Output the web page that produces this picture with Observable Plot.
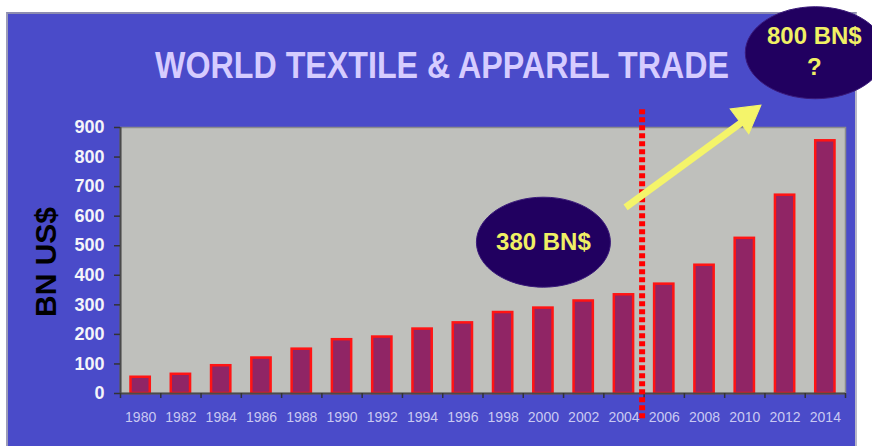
<!DOCTYPE html>
<html>
<head>
<meta charset="utf-8">
<script src="https://cdn.jsdelivr.net/npm/d3@7"></script>
<script src="https://cdn.jsdelivr.net/npm/@observablehq/plot@0.6"></script>
<style>
  html, body { margin: 0; padding: 0; background: #ffffff; width: 872px; height: 446px; overflow: hidden; }
  #panel { position: absolute; left: 6px; top: 12px; width: 847px; height: 440px;
           background: #4a4bc9; border-top: 2px solid #8d8db0; border-left: 2px solid #9c9cb8; border-right: 2px solid #b8b8c8; }
  #chart { position: absolute; left: 0; top: 0; }
</style>
</head>
<body>
<div id="panel"></div>
<div id="chart"></div>
<script>
// ---- data ----
const years  = [1980, 1982, 1984, 1986, 1988, 1990, 1992, 1994, 1996, 1998, 2000, 2002, 2004, 2006, 2008, 2010, 2012, 2014];
const values = [55, 65, 94, 120, 150, 182, 191, 218, 239, 274, 289, 313, 334, 370, 434, 525, 671, 855];
const yTicks = [0, 100, 200, 300, 400, 500, 600, 700, 800, 900];
const titleText = "WORLD TEXTILE & APPAREL TRADE";
const yLabel = "BN US$";
const noteNow = [{year: 2000, value: 512, label: "380 BN$"}];
const noteFuture = [{year: 2013.5, value: 1153, label: "800 BN$\n?"}];
const divider = [2005];
const arrowShaft = [{x1: 2004.08, y1: 630, x2: 2010.2, y2: 935}];
const arrowHead = [{year: 2010.09, value: 939}];

const data = years.map((year, i) => ({year, value: values[i]}));
const boundaries = years.map(y => y - 1).concat([years[years.length - 1] + 1]);

// ellipse symbols for the callouts
function ellipseSymbol(rx, ry) {
  const k = 0.5523;
  return {
    draw(context) {
      context.moveTo(rx, 0);
      context.bezierCurveTo(rx, ry * k, rx * k, ry, 0, ry);
      context.bezierCurveTo(-rx * k, ry, -rx, ry * k, -rx, 0);
      context.bezierCurveTo(-rx, -ry * k, -rx * k, -ry, 0, -ry);
      context.bezierCurveTo(rx * k, -ry, rx, -ry * k, rx, 0);
      context.closePath();
    }
  };
}

const font = "'Liberation Sans', Arial, Helvetica, sans-serif";

const chart = Plot.plot({
  width: 872,
  height: 446,
  marginLeft: 120,
  marginRight: 27,
  marginTop: 127,
  marginBottom: 53,
  x: {domain: [1979, 2015], axis: null},
  y: {domain: [0, 900], axis: null},
  style: {background: "transparent", fontFamily: font, overflow: "visible"},
  marks: [
    Plot.frame({fill: "#bfc0bc", stroke: "#8c8c8c", strokeWidth: 1.5}),
    Plot.rectY(data, {x1: d => d.year - 1, x2: d => d.year + 1, y: "value",
      insetLeft: 10.5, insetRight: 10.5, fill: "#902565", stroke: "#ff1414", strokeWidth: 2.5}),
    Plot.ruleY([0], {stroke: "#4a4a4a", strokeWidth: 2}),
    Plot.ruleX([1979], {stroke: "#4a4a4a", strokeWidth: 2}),
    // y axis ticks + labels
    Plot.axisY({ticks: yTicks, tickSize: 6, tickFormat: () => "", label: null, stroke: "#333333", strokeWidth: 1.5}),
    Plot.axisY({ticks: yTicks, tickSize: 0, tickPadding: 16, label: null, fontSize: 18, fontWeight: "bold", fill: "#f4f4fa", stroke: "none"}),
    // x axis ticks at band boundaries + labels
    Plot.axisX({ticks: boundaries, tickSize: 5, tickFormat: () => "", label: null, stroke: "#333333", strokeWidth: 1.5}),
    Plot.axisX({ticks: years, tickSize: 0, tickPadding: 19, tickFormat: d => String(d), label: null, fontSize: 14, fill: "#c9c9f2", stroke: "none"}),
    // y label
    Plot.text([yLabel], {frameAnchor: "left", text: d => d, rotate: -90, dx: -74, dy: 1.5,
      fontSize: 30, fontWeight: "bold", fill: "#000000", textAnchor: "middle"}),
    // title
    Plot.text([titleText], {frameAnchor: "top", text: d => d, dx: -41, dy: -61,
      fontSize: 36, fontWeight: "bold", fill: "#d6ccff", textAnchor: "middle", lineAnchor: "middle", className: "ttl"}),
    // current callout
    Plot.dot(noteNow, {x: "year", y: "value", symbol: ellipseSymbol(67, 45), fill: "#210060", stroke: "#3a1a7a", strokeWidth: 1}),
    Plot.text(noteNow, {x: "year", y: "value", text: "label", fontSize: 24, fontWeight: "bold", fill: "#f0f064"}),
    // divider
    Plot.ruleX(divider, {y1: 960, y2: -94, dx: -2, stroke: "#ff0000", strokeWidth: 6, strokeDasharray: "5,3"}),
    // arrow
    Plot.link(arrowShaft, {x1: "x1", y1: "y1", x2: "x2", y2: "y2", stroke: "#f4f46a", strokeWidth: 7}),
    Plot.dot(arrowHead, {x: "year", y: "value", symbol: "triangle", r: 11.5, rotate: 53, fill: "#f4f46a", stroke: "#f4f46a", strokeWidth: 1}),
    // future callout
    Plot.dot(noteFuture, {x: "year", y: "value", symbol: ellipseSymbol(70, 46), fill: "#210060", stroke: "#3a1a7a", strokeWidth: 1}),
    Plot.text(noteFuture, {x: "year", y: "value", text: "label", fontSize: 24, fontWeight: "bold", fill: "#f0f064", lineHeight: 1.3, dx: -1, dy: -3})
  ]
});

d3.select(chart).selectAll(".ttl text").attr("textLength", 574).attr("lengthAdjust", "spacingAndGlyphs");
document.getElementById("chart").appendChild(chart);
</script>
</body>
</html>
